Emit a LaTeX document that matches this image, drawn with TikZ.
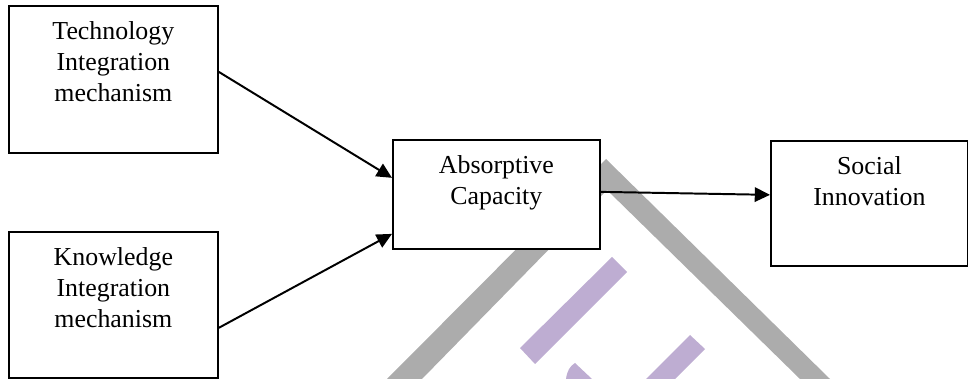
\documentclass[tikz,border=0pt]{standalone}
\usepackage{fontspec}
\setmainfont{Liberation Serif}
\usepackage{tikz}
\usetikzlibrary{arrows.meta}
\usepackage{xcolor}

\definecolor{markgray}{HTML}{ACACAC}
\definecolor{markpurple}{HTML}{BEADD2}

\tikzset{
  box/.style={draw, line width=1.2pt, fill=white, inner sep=0pt, align=center,
    anchor=north west, text height=0.85cm, font=\fontsize{18.4}{22}\selectfont},
  link/.style={line width=1.4pt, -{Triangle[length=0.38cm, width=0.36cm]}}
}

\begin{document}
\begin{tikzpicture}[x=0.025cm,y=-0.025cm]
\useasboundingbox (0,0) rectangle (968,379);
% watermark behind the boxes
\begin{scope}
\clip (0,0) rectangle (968,379);
\fill[markgray] (606,159) -- (830,379) -- (800,379) -- (607,190) -- (422,379) -- (387,379) -- cycle;
\fill[markpurple] (612,257) -- (627,272) -- (535,364) -- (520,348) -- cycle;
\fill[markpurple] (690,335) -- (705,349) -- (665,389) -- (636,389) -- cycle;
\fill[markpurple] (566,379) .. controls (567,371) and (570,366) .. (575,363) -- (592,379) -- cycle;
\end{scope}
% boxes
\node[box, text width=5.225cm, text depth=2.825cm] (tech) at (8,5) {Technology\\Integration\\mechanism};
\node[box, text width=5.225cm, text depth=2.8cm] (know) at (8,231) {Knowledge\\Integration\\mechanism};
\node[box, text width=5.175cm, text depth=1.875cm] (absorb) at (392,139) {Absorptive\\Capacity};
\node[box, text width=4.925cm, text depth=2.275cm] (social) at (770,140) {Social\\Innovation};
% arrows
\draw[link] ([yshift=0.1875cm]tech.east) -- ([yshift=0.4125cm]absorb.west);
\draw[link] ([yshift=-0.575cm]know.east) -- ([yshift=-0.9875cm]absorb.west);
\draw[link] ([yshift=0.0625cm]absorb.east) -- ([yshift=0.2125cm]social.west);
\end{tikzpicture}
\end{document}
